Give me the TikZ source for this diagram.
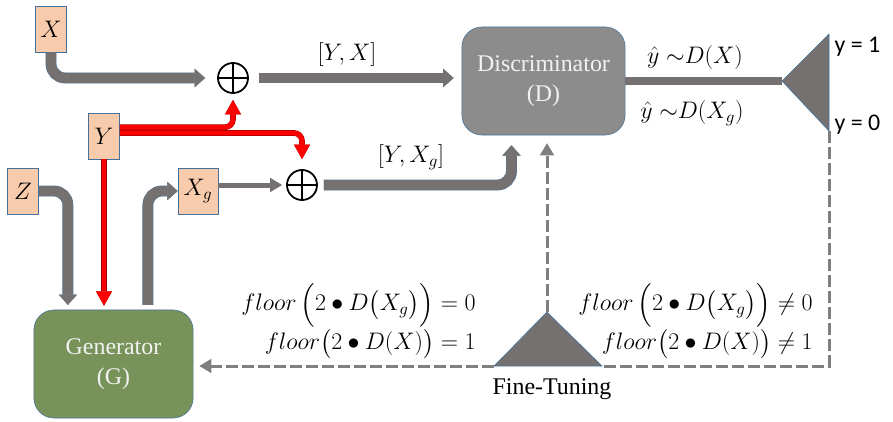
\documentclass[tikz,border=0pt]{standalone}
\usepackage{fix-cm,amsmath}
\usepackage{fontspec}
\setmainfont{Liberation Serif}
\newfontfamily\outfont{Carlito}
\usetikzlibrary{arrows.meta,calc}
\definecolor{peach}{HTML}{F8CBAD}
\definecolor{bdr}{HTML}{41719C}
\definecolor{dgray}{HTML}{767171}
\definecolor{dfill}{HTML}{8C8C8C}
\definecolor{gfill}{HTML}{77935A}
\definecolor{dline}{HTML}{7F7F7F}
\tikzset{var/.style={draw=bdr,fill=peach,minimum width=0.78cm,minimum height=1.15cm,inner sep=0pt,font=\fontsize{17}{20}\selectfont},block/.style={draw=bdr,rounded corners=0.5cm,minimum width=4.08cm,minimum height=2.7cm,align=center,text=white!95!black,font=\fontsize{17}{21}\selectfont},sum/.style={circle,draw,line width=0.45mm,minimum size=0.75cm,inner sep=0pt,path picture={\draw[line width=0.45mm] (path picture bounding box.north)--(path picture bounding box.south) (path picture bounding box.west)--(path picture bounding box.east);}},flow/.style={draw=dgray,line width=2.5mm,rounded corners=0.35cm,-{Triangle[length=2.6mm,width=4.6mm,line width=0pt]},preaction={draw=bdr,line width=2.5mm+0.6pt}},thinflow/.style={draw=dgray,line width=1.25mm,-{Triangle[length=3mm,width=3.6mm,line width=0pt]}},sig/.style={draw=red,line width=1.2mm,rounded corners=0.2cm,-{Triangle[length=3.6mm,width=4mm,line width=0pt]},preaction={draw=red!60!black,line width=1.2mm+0.6pt}},bus/.style={draw=dgray,line width=2mm,preaction={draw=bdr,line width=2mm+0.6pt}},fb/.style={draw=dline,line width=0.75mm,dash pattern=on 3mm off 1mm},fbtip/.style={fb,-{Triangle[length=3mm,width=3.6mm,line width=0pt]}},lab/.style={font=\fontsize{17}{20}\selectfont,inner sep=1pt}}

\begin{document}
\begin{tikzpicture}[x=0.025cm,y=-0.025cm]
\useasboundingbox (0,0) rectangle (893,421);
\node[var] (x) at (51,29) {$X$};
\node[var] (y) at (104,136) {$Y$};
\node[var] (z) at (23,191) {$Z$};
\node[var,minimum width=1cm] (xg) at (198,191) {$X_g$};
\node[sum] (s1) at (233,78) {};
\node[sum] (s2) at (302,185) {};
\node[block,fill=dfill] (d) at (543.5,81) {Discriminator\\(D)};
\node[block,fill=gfill,minimum width=3.98cm] (g) at (113.5,364) {Generator\\(G)};
\coordinate (ta) at (782,81); \coordinate (tt) at (829,34); \coordinate (tb) at (829,131);
\coordinate (fl) at (494,366); \coordinate (fr) at (602,366); \coordinate (fa) at (547,312);
\filldraw[fill=dgray,draw=bdr,line width=0.4pt] (ta)--(tt)--(tb)--cycle;
\filldraw[fill=dgray,draw=bdr,line width=0.4pt] (fl)--(fa)--(fr)--cycle;
% forward path
\draw[flow,shorten >=3mm] (x.south) |- (s1.west);
\draw[flow,shorten <=2.5mm,shorten >=2mm] (s1.east) -- (d.west |- s1);
\draw[flow,shorten <=1.5mm,shorten >=2.5mm] (s2.east) -| ([xshift=-0.8cm]d.south);
\draw[thinflow,shorten >=1mm] (xg.east |- s2) -- (s2.west);
\draw[flow,shorten <=1.2mm] ([xshift=0.86cm]g.north) |- (xg.west);
\draw[flow,shorten >=1.2mm] (z.east) -| ([xshift=-1.14cm]g.north);
\draw[bus] (d.east |- ta) -- (ta);
% labels
\draw[sig,shorten >=1mm] (y.south) -- (y.south |- g.north);
\draw[sig,shorten >=1.5mm] ([yshift=0.22cm]y.east) -| (s1.south);
\draw[sig,shorten >=2.5mm] ([yshift=0.075cm]y.east) -| (s2.north);
\node[lab] (yx) at (347,55) {$[Y,X]$};
\node[lab] (yxg) at (411,157) {$[Y,X_g]$};
\node[lab] (l1) at (695,58) {$\hat{y}\;{\sim}D(X)$};
\node[lab] (l2) at (692,113) {$\hat{y}\;{\sim}D(X_g)$};
\node[lab,font=\outfont\fontsize{17}{20}\selectfont,anchor=west] (o1) at (833,47) {y = 1};
\node[lab,font=\outfont\fontsize{17}{20}\selectfont,anchor=west] (o0) at (833,125) {y = 0};
\node[lab] (ft) at (552,389) {Fine-Tuning};
\node[lab,inner sep=0pt,anchor=east] (c1) at (476,305) {$floor\,\Bigl(2\bullet D\bigl(X_g\bigr)\Bigr)=0$};
\node[lab,inner sep=0pt,anchor=east] (c2) at (476,344) {$floor\bigl(2\bullet D(X)\bigr)=1$};
\node[lab,inner sep=0pt,anchor=east] (c3) at (813,305) {$floor\,\Bigl(2\bullet D\bigl(X_g\bigr)\Bigr)\neq0$};
\node[lab,inner sep=0pt,anchor=east] (c4) at (813,344) {$floor\bigl(2\bullet D(X)\bigr)\neq1$};
% fine-tuning loop
\draw[fb] (tb) |- (fr);
\draw[fbtip,shorten >=2mm] (fa) -- (fa |- d.south);
\draw[fbtip,shorten >=1.5mm] (fl) -- (g.east |- fl);
\end{tikzpicture}
\end{document}
